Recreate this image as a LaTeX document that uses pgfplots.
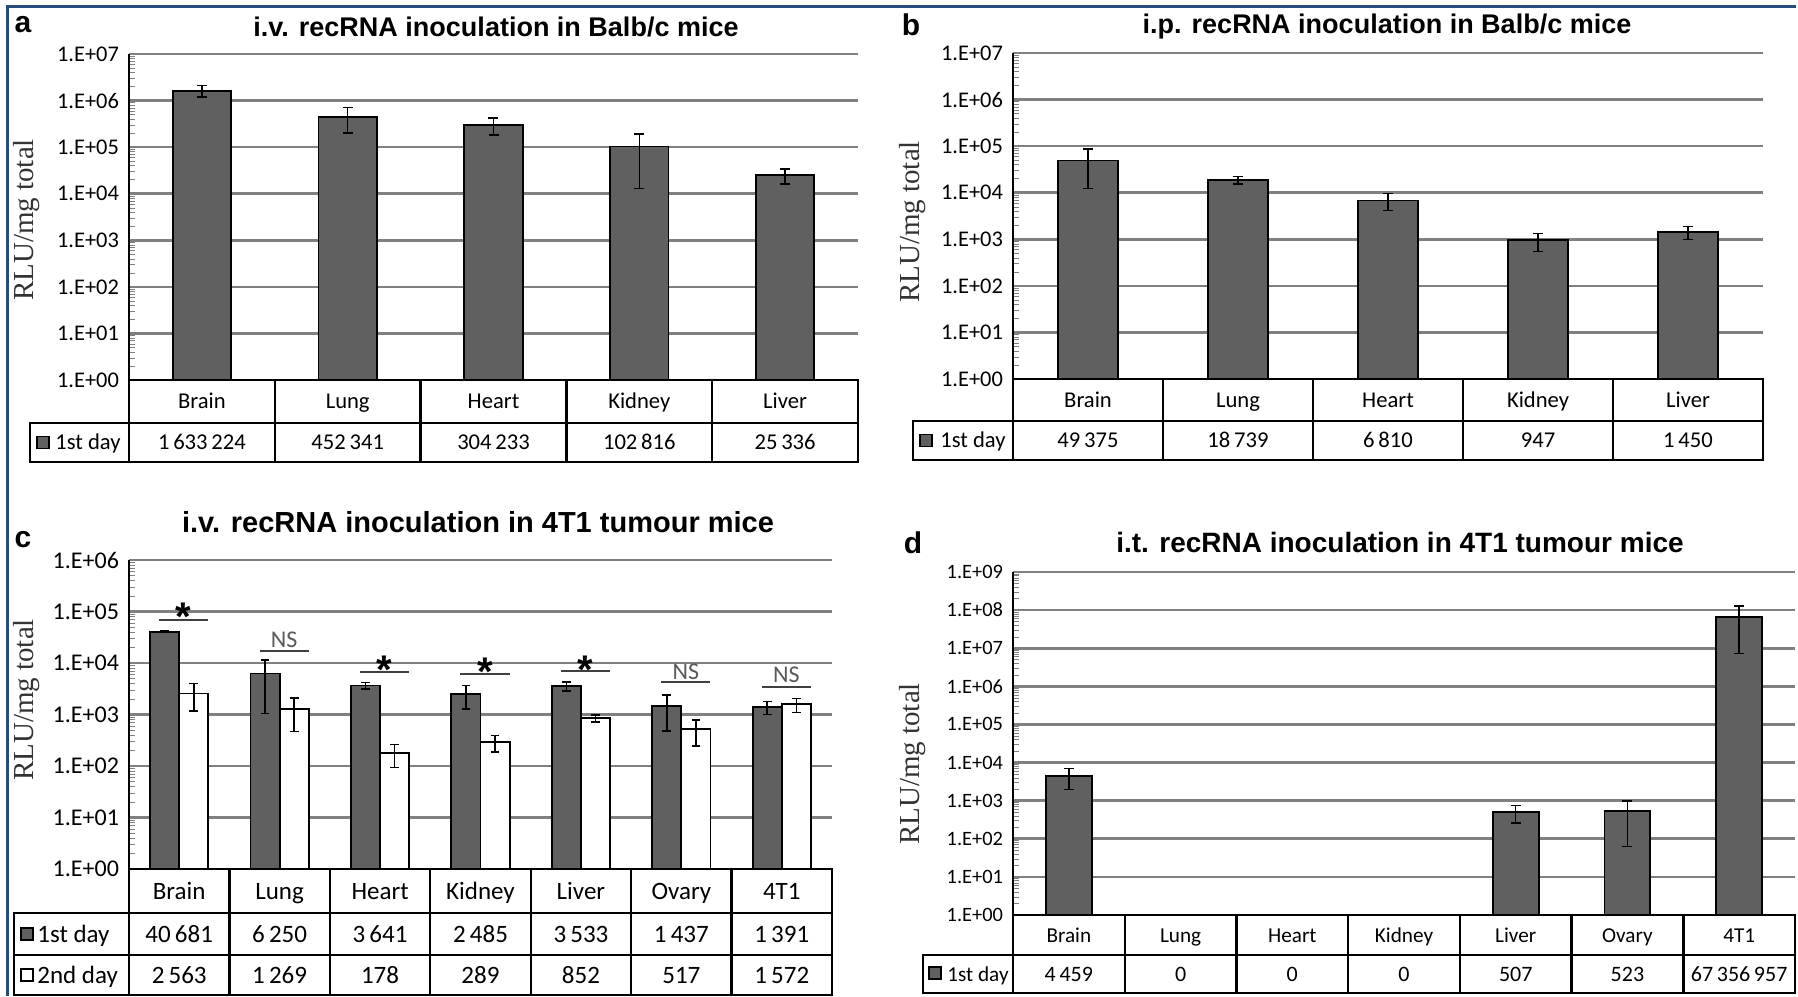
\documentclass[border=0pt]{standalone}
\usepackage{pgfplots}
\pgfplotsset{compat=1.18}
\usepackage{fontspec}
\setmainfont{Carlito}
\newfontfamily\titlef{Liberation Sans}
\newfontfamily\timesf{Liberation Serif}
\newcommand\tf[1]{\fontsize{#1}{#1}\selectfont}
\definecolor{barc}{RGB}{96,96,96}
\definecolor{gridc}{RGB}{128,128,128}
\definecolor{framec}{RGB}{40,75,125}
\pgfplotsset{
  every axis/.append style={
  scale only axis, anchor=south west,
  enlargelimits=false, clip=false,
  axis lines*=left, separate axis lines,
  x axis line style={draw=none}, y axis line style={line width=1pt, black},
  xtick=\empty, major tick length=0pt,
  ymajorgrids, grid style={gridc, line width=1.3pt},
  yticklabel style={xshift=-1.5pt},
  },
  every axis plot/.append style={fill=barc, draw=black, line width=0.9pt},
  error bars/error bar style={line width=0.75pt, black},
  error bars/error mark options={rotate=90, line width=0.75pt, black, mark size=2.5pt},
}
\tikzset{
 tbl/.style={line width=1.2pt, black},
 sq/.style={fill=barc, draw=black, line width=0.9pt},
 sqw/.style={fill=white, draw=black, line width=0.9pt},
 cell/.style={anchor=base, inner sep=0pt},
 sigline/.style={line width=1.2pt, black!75},
 sigstar/.style={font=\titlef\bfseries\tf{20}, anchor=base, yshift=-11.5pt, inner sep=0pt},
 signs/.style={font=\tf{12}, text=black!65, anchor=base, yshift=-3.9pt, inner sep=0pt},
 ylab/.style={font=\timesf\tf{14.5}, text=black!80, rotate=90},
}
\begin{document}
\begin{tikzpicture}
\useasboundingbox (0,0) rectangle (899pt,498pt);
% frame
\draw[framec, line width=1.5pt] (3.5pt,0) -- (3.5pt,494.5pt) -- (898pt,494.5pt);

% ================= panel a =================
\begin{axis}[ymode=log, ybar, at={(64.5pt,308pt)}, width=364.5pt, height=163pt,
  xmin=-0.5, xmax=4.5, ymin=1, ymax=1e7, bar width=0.4,
  ytick={1,10,100,1000,10000,100000,1000000,10000000},
  yticklabels={1.E+00,1.E+01,1.E+02,1.E+03,1.E+04,1.E+05,1.E+06,1.E+07},
  yticklabel style={font=\tf{11.2}}]
\addplot[error bars/.cd, y dir=both, y explicit] coordinates {
 (0,1633224) +- (0,450000)
 (1,452341) +- (0,250000)
 (2,304233) +- (0,120000)
 (3,102816) +- (0,90000)
 (4,25336) +- (0,9000)
};
\end{axis}
\node[font=\titlef\bfseries\tf{13.5}] at (248pt,484.5pt) {i.v. recRNA inoculation in Balb/c mice};
\node[font=\titlef\bfseries\tf{15}] at (11.5pt,485.5pt) {a};
\node[ylab] at (13.5pt,388pt) {RLU/mg total};
\draw[tbl] (64.5pt,308pt) -- (429pt,308pt) -- (429pt,267pt) -- (15pt,267pt) -- (15pt,286.5pt) -- (429pt,286.5pt);
\draw[tbl] (64.5pt,308pt) -- (64.5pt,267pt);
\foreach \k in {1,...,4} \draw[tbl] ({64.5pt+\k*72.9pt},308pt) -- ({64.5pt+\k*72.9pt},267pt);
\foreach \n [count=\k from 0] in {Brain,Lung,Heart,Kidney,Liver}
  \node[cell, font=\tf{11.3}] at ({64.5pt+(\k+0.5)*72.9pt},293.65pt) {\n};
\foreach \n [count=\k from 0] in {{1\,633\,224},{452\,341},{304\,233},{102\,816},{25\,336}}
  \node[cell, font=\tf{11.3}] at ({64.5pt+(\k+0.5)*72.9pt},273.15pt) {\n};
\draw[sq] (18.5pt,273.75pt) rectangle (24.5pt,279.75pt);
\node[cell, anchor=base west, font=\tf{11.3}] at (27.5pt,273.15pt) {1st day};

% ================= panel b =================
\begin{axis}[ymode=log, ybar, at={(506.5pt,308.5pt)}, width=375pt, height=163pt,
  xmin=-0.5, xmax=4.5, ymin=1, ymax=1e7, bar width=0.4,
  ytick={1,10,100,1000,10000,100000,1000000,10000000},
  yticklabels={1.E+00,1.E+01,1.E+02,1.E+03,1.E+04,1.E+05,1.E+06,1.E+07},
  yticklabel style={font=\tf{11.2}}]
\addplot[error bars/.cd, y dir=both, y explicit] coordinates {
 (0,49375) +- (0,37000)
 (1,18739) +- (0,3500)
 (2,6810) +- (0,2700)
 (3,947) +- (0,400)
 (4,1450) +- (0,450)
};
\end{axis}
\node[font=\titlef\bfseries\tf{13.5}] at (693.5pt,484.5pt) {i.p. recRNA inoculation in Balb/c mice};
\node[font=\titlef\bfseries\tf{15}] at (455.5pt,485.5pt) {b};
\node[ylab] at (456.5pt,387pt) {RLU/mg total};
\draw[tbl] (506.5pt,308.5pt) -- (881.5pt,308.5pt) -- (881.5pt,268pt) -- (456.5pt,268pt) -- (456.5pt,287.5pt) -- (881.5pt,287.5pt);
\draw[tbl] (506.5pt,308.5pt) -- (506.5pt,268pt);
\foreach \k in {1,...,4} \draw[tbl] ({506.5pt+\k*75pt},308.5pt) -- ({506.5pt+\k*75pt},268pt);
\foreach \n [count=\k from 0] in {Brain,Lung,Heart,Kidney,Liver}
  \node[cell, font=\tf{11.3}] at ({506.5pt+(\k+0.5)*75pt},294.4pt) {\n};
\foreach \n [count=\k from 0] in {{49\,375},{18\,739},{6\,810},{947},{1\,450}}
  \node[cell, font=\tf{11.3}] at ({506.5pt+(\k+0.5)*75pt},274.15pt) {\n};
\draw[sq] (460pt,274.75pt) rectangle (466pt,280.75pt);
\node[cell, anchor=base west, font=\tf{11.3}] at (470pt,274.15pt) {1st day};

% ================= panel c =================
\begin{axis}[ymode=log, ybar, at={(64.5pt,63.5pt)}, width=351.5pt, height=154.5pt,
  xmin=-0.5, xmax=6.5, ymin=1, ymax=1e6, bar width=0.29,
  error bars/error mark options={rotate=90, line width=0.75pt, black, mark size=2.2pt},
  ytick={1,10,100,1000,10000,100000,1000000},
  yticklabels={1.E+00,1.E+01,1.E+02,1.E+03,1.E+04,1.E+05,1.E+06},
  yticklabel style={font=\tf{12}}]
\addplot[fill=barc, bar shift=-0.145, error bars/.cd, y dir=both, y explicit] coordinates {
 (0,40681) +- (0,1500)
 (1,6250) +- (0,5200)
 (2,3641) +- (0,500)
 (3,2485) +- (0,1200)
 (4,3533) +- (0,700)
 (5,1437) +- (0,960)
 (6,1391) +- (0,385)
};
\addplot[fill=white, bar shift=0.145, error bars/.cd, y dir=both, y explicit] coordinates {
 (0,2563) +- (0,1400)
 (1,1269) +- (0,800)
 (2,178) +- (0,85)
 (3,289) +- (0,100)
 (4,852) +- (0,130)
 (5,517) +- (0,270)
 (6,1572) +- (0,480)
};
\draw[sigline] (axis cs:-0.2,68400) -- (axis cs:0.29,68400);
\node[sigstar] at (axis cs:0.045,117500) {*};
\draw[sigline] (axis cs:0.8,17100) -- (axis cs:1.29,17100);
\node[signs] at (axis cs:1.045,28000) {NS};
\draw[sigline] (axis cs:1.8,6680) -- (axis cs:2.29,6680);
\node[sigstar] at (axis cs:2.045,11430) {*};
\draw[sigline] (axis cs:2.8,6110) -- (axis cs:3.29,6110);
\node[sigstar] at (axis cs:3.045,10000) {*};
\draw[sigline] (axis cs:3.8,7000) -- (axis cs:4.29,7000);
\node[sigstar] at (axis cs:4.045,11430) {*};
\draw[sigline] (axis cs:4.8,4280) -- (axis cs:5.29,4280);
\node[signs] at (axis cs:5.045,6680) {NS};
\draw[sigline] (axis cs:5.8,3420) -- (axis cs:6.29,3420);
\node[signs] at (axis cs:6.045,5850) {NS};
\end{axis}
\node[font=\titlef\bfseries\tf{14.5}] at (239pt,237pt) {i.v. recRNA inoculation in 4T1 tumour mice};
\node[font=\titlef\bfseries\tf{15}] at (11.5pt,228pt) {c};
\node[ylab] at (13.5pt,148pt) {RLU/mg total};
\draw[tbl] (64.5pt,63.5pt) -- (416pt,63.5pt) -- (416pt,0.5pt) -- (7pt,0.5pt) -- (7pt,41.5pt) -- (416pt,41.5pt);
\draw[tbl] (7pt,20.5pt) -- (416pt,20.5pt);
\draw[tbl] (64.5pt,63.5pt) -- (64.5pt,0.5pt);
\foreach \k in {1,...,6} \draw[tbl] ({64.5pt+\k*50.214pt},63.5pt) -- ({64.5pt+\k*50.214pt},0.5pt);
\foreach \n [count=\k from 0] in {Brain,Lung,Heart,Kidney,Liver,Ovary,4T1}
  \node[cell, font=\tf{12.5}] at ({64.5pt+(\k+0.5)*50.214pt},48.5pt) {\n};
\foreach \n [count=\k from 0] in {{40\,681},{6\,250},{3\,641},{2\,485},{3\,533},{1\,437},{1\,391}}
  \node[cell, font=\tf{12.5}] at ({64.5pt+(\k+0.5)*50.214pt},27pt) {\n};
\foreach \n [count=\k from 0] in {{2\,563},{1\,269},{178},{289},{852},{517},{1\,572}}
  \node[cell, font=\tf{12.5}] at ({64.5pt+(\k+0.5)*50.214pt},6.5pt) {\n};
\draw[sq] (10.5pt,28pt) rectangle (16.5pt,34pt);
\node[cell, anchor=base west, font=\tf{12.5}] at (18.5pt,27pt) {1st day};
\draw[sqw] (10.5pt,7.5pt) rectangle (16.5pt,13.5pt);
\node[cell, anchor=base west, font=\tf{12.5}] at (18.5pt,6.5pt) {2nd day};

% ================= panel d =================
\begin{axis}[ymode=log, ybar, at={(506.5pt,40.5pt)}, width=391pt, height=171.5pt,
  xmin=-0.5, xmax=6.5, ymin=1, ymax=1e9, bar width=0.41,
  ytick={1,10,100,1000,10000,100000,1000000,10000000,100000000,1000000000},
  yticklabels={1.E+00,1.E+01,1.E+02,1.E+03,1.E+04,1.E+05,1.E+06,1.E+07,1.E+08,1.E+09},
  yticklabel style={font=\tf{10.2}}]
\addplot[error bars/.cd, y dir=both, y explicit] coordinates {
 (0,4459) +- (0,2500)
 (4,507) +- (0,250)
 (5,523) +- (0,460)
 (6,67356957) +- (0,60000000)
};
\end{axis}
\node[font=\titlef\bfseries\tf{14}] at (700pt,227pt) {i.t. recRNA inoculation in 4T1 tumour mice};
\node[font=\titlef\bfseries\tf{15}] at (456.5pt,226.5pt) {d};
\node[ylab] at (456.5pt,116pt) {RLU/mg total};
\draw[tbl] (506.5pt,40.5pt) -- (897.5pt,40.5pt) -- (897.5pt,1.5pt) -- (461.5pt,1.5pt) -- (461.5pt,20.5pt) -- (897.5pt,20.5pt);
\draw[tbl] (506.5pt,40.5pt) -- (506.5pt,1.5pt);
\foreach \k in {1,...,6} \draw[tbl] ({506.5pt+\k*55.857pt},40.5pt) -- ({506.5pt+\k*55.857pt},1.5pt);
\foreach \n [count=\k from 0] in {Brain,Lung,Heart,Kidney,Liver,Ovary,4T1}
  \node[cell, font=\tf{10.6}] at ({506.5pt+(\k+0.5)*55.857pt},27pt) {\n};
\foreach \n [count=\k from 0] in {{4\,459},{0},{0},{0},{507},{523},{67\,356\,957}}
  \node[cell, font=\tf{11}] at ({506.5pt+(\k+0.5)*55.857pt},7.5pt) {\n};
\draw[sq] (464.5pt,8.5pt) rectangle (470.5pt,14.5pt);
\node[cell, anchor=base west, font=\tf{10.6}] at (473.5pt,7.5pt) {1st day};
\end{tikzpicture}
\end{document}
